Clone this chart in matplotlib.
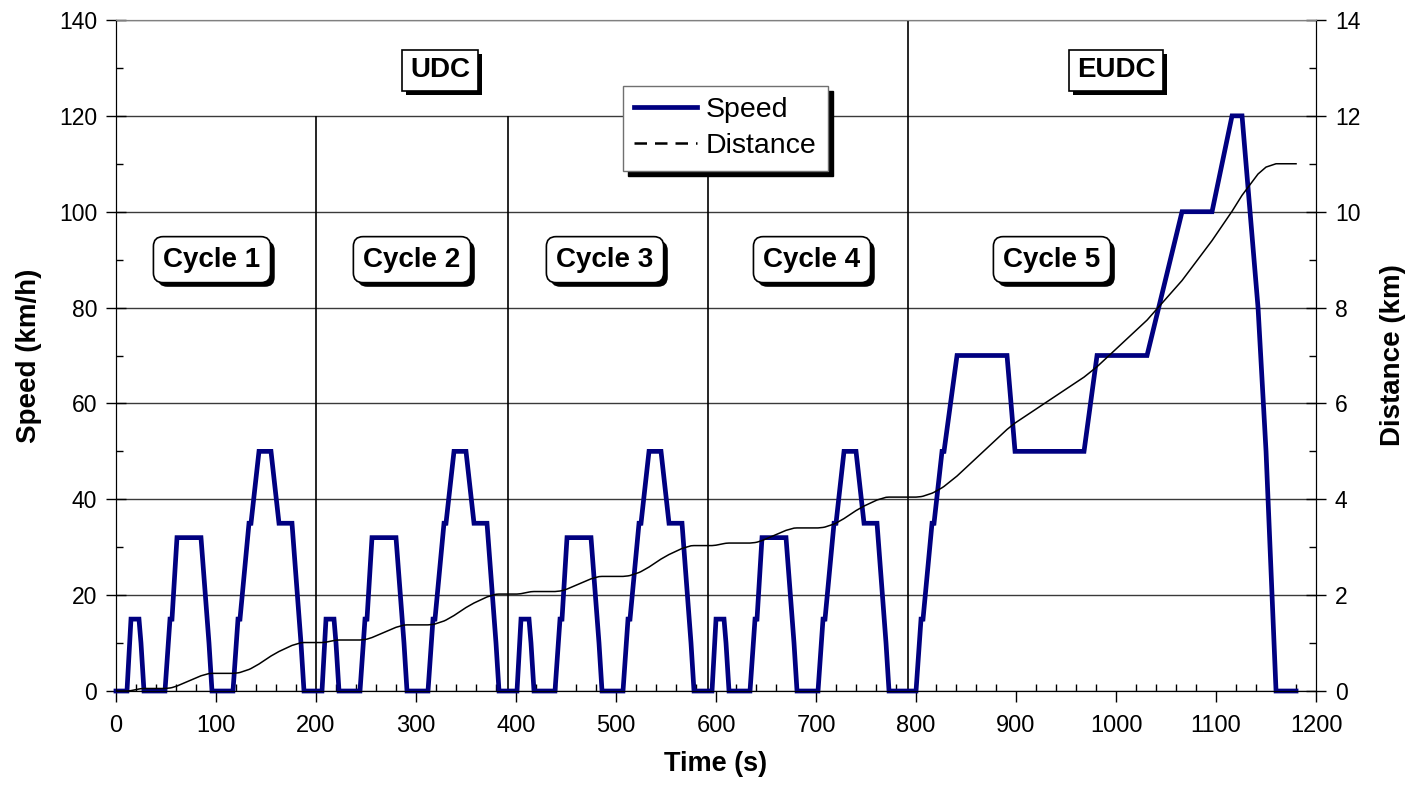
import matplotlib
matplotlib.use('Agg')
import matplotlib.pyplot as plt
from matplotlib.ticker import MultipleLocator
from matplotlib.lines import Line2D
import matplotlib.patheffects as pe

plt.rcParams['font.family'] = ['Liberation Sans', 'DejaVu Sans']

# ---------------- data ----------------
time_s = [
    # Cycle 1 (ECE-15)
    0, 11, 15, 23, 25, 28, 49, 54, 56, 61, 85, 93, 96, 117, 122, 124, 133, 135, 143, 155, 163, 176, 185, 188,
    # Cycle 2
    195, 206, 210, 218, 220, 223, 244, 249, 251, 256, 280, 288, 291, 312, 317, 319, 328, 330, 338, 350, 358, 371, 380, 383,
    # Cycle 3
    390, 401, 405, 413, 415, 418, 439, 444, 446, 451, 475, 483, 486, 507, 512, 514, 523, 525, 533, 545, 553, 566, 575, 578,
    # Cycle 4
    585, 596, 600, 608, 610, 613, 634, 639, 641, 646, 670, 678, 681, 702, 707, 709, 718, 720, 728, 740, 748, 761, 770, 773,
    # Cycle 5 (EUDC)
    780, 800, 805, 807, 816, 818, 826, 828, 841, 891, 899, 968, 981, 1031, 1066, 1096, 1116, 1126, 1142, 1150, 1160, 1180,
]

speed_kmh = [
    0, 0, 15, 15, 10, 0, 0, 15, 15, 32, 32, 10, 0, 0, 15, 15, 35, 35, 50, 50, 35, 35, 10, 0,
    0, 0, 15, 15, 10, 0, 0, 15, 15, 32, 32, 10, 0, 0, 15, 15, 35, 35, 50, 50, 35, 35, 10, 0,
    0, 0, 15, 15, 10, 0, 0, 15, 15, 32, 32, 10, 0, 0, 15, 15, 35, 35, 50, 50, 35, 35, 10, 0,
    0, 0, 15, 15, 10, 0, 0, 15, 15, 32, 32, 10, 0, 0, 15, 15, 35, 35, 50, 50, 35, 35, 10, 0,
    0, 0, 15, 15, 35, 35, 50, 50, 70, 70, 50, 50, 70, 70, 100, 100, 120, 120, 80, 50, 0, 0,
]

distance_km = [
    0, 0, 0.0083, 0.0417, 0.0486, 0.0528, 0.0528, 0.0632, 0.0715, 0.1042, 0.3175, 0.3642,
    0.3683, 0.3683, 0.3788, 0.3871, 0.4496, 0.4690, 0.5635, 0.7301, 0.8246, 0.9510, 1.0072, 1.0114,
    1.0114, 1.0114, 1.0197, 1.0531, 1.0600, 1.0642, 1.0642, 1.0746, 1.0829, 1.1156, 1.3289, 1.3756,
    1.3797, 1.3797, 1.3902, 1.3985, 1.4610, 1.4804, 1.5749, 1.7415, 1.8360, 1.9624, 2.0186, 2.0228,
    2.0228, 2.0228, 2.0311, 2.0645, 2.0714, 2.0756, 2.0756, 2.0860, 2.0943, 2.1270, 2.3403, 2.3870,
    2.3911, 2.3911, 2.4016, 2.4099, 2.4724, 2.4918, 2.5863, 2.7529, 2.8474, 2.9738, 3.0300, 3.0342,
    3.0342, 3.0342, 3.0425, 3.0759, 3.0828, 3.0870, 3.0870, 3.0974, 3.1057, 3.1384, 3.3517, 3.3984,
    3.4025, 3.4025, 3.4130, 3.4213, 3.4838, 3.5032, 3.5977, 3.7643, 3.8588, 3.9852, 4.0414, 4.0456,
    4.0456, 4.0456, 4.0560, 4.0644, 4.1269, 4.1463, 4.2407, 4.2685, 4.4852, 5.4574, 5.5907,
    6.5491, 6.7657, 7.7380, 8.5644, 9.3977, 10.0088, 10.3421, 10.7866, 10.9310, 11.0005, 11.0005,
]

cycle_labels = ["Cycle 1", "Cycle 2", "Cycle 3", "Cycle 4", "Cycle 5"]
cycle_label_x = [96, 296, 489, 696, 936]
cycle_label_y = 90

phase_labels = ["UDC", "EUDC"]
phase_label_x = [324, 1000]
phase_label_y = 129.5

divider_x = [200, 392, 592, 792]
divider_top = [120, 120, 120, 140]

x_ticks = list(range(0, 1201, 100))
speed_ticks = list(range(0, 141, 20))
dist_ticks = list(range(0, 15, 2))

# ---------------- figure ----------------
fig = plt.figure(figsize=(14.11, 7.9), dpi=100)
ax = fig.add_axes([0.0822, 0.1253, 0.8505, 0.8494])
ax2 = ax.twinx()

ax.set_xlim(0, 1200)
ax.set_ylim(0, 140)
ax2.set_ylim(0, 14)

ax.set_axisbelow(True)
ax.yaxis.grid(True, which='major', color='#3a3a3a', lw=1.0)

ax.vlines(divider_x, 0, divider_top, colors='black', lw=1.2, zorder=1)

speed_line, = ax.plot(time_s, speed_kmh, color='#000080', lw=3.4,
                      solid_joinstyle='miter', zorder=3, clip_on=False, label='Speed')
ax2.plot(time_s, distance_km, color='black', lw=1.1, zorder=2)

ax.set_xticks(x_ticks)
ax.xaxis.set_minor_locator(MultipleLocator(20))
ax.set_yticks(speed_ticks)
ax.yaxis.set_minor_locator(MultipleLocator(10))
ax2.set_yticks(dist_ticks)
ax2.yaxis.set_minor_locator(MultipleLocator(1))

ax.tick_params(axis='x', which='major', direction='out', length=8, width=1, labelsize=17, pad=9)
ax.tick_params(axis='x', which='minor', direction='in', length=5, width=1)
ax.tick_params(axis='y', which='major', direction='inout', length=15, width=1, labelsize=16.5, pad=6)
ax.tick_params(axis='y', which='minor', direction='in', length=5, width=1)
ax2.tick_params(axis='y', which='major', direction='inout', length=15, width=1, labelsize=16.5, pad=6)
ax2.tick_params(axis='y', which='minor', direction='in', length=5, width=1)

for a in (ax, ax2):
    a.spines['top'].set_color('#808080')
    a.spines['left'].set_color('black')
    a.spines['right'].set_color('black')
    a.spines['bottom'].set_color('black')

ax.set_xlabel('Time (s)', fontsize=19.5, fontweight='bold', labelpad=10)
ax.set_ylabel('Speed (km/h)', fontsize=20, fontweight='bold', labelpad=12)
ax2.set_ylabel('Distance (km)', fontsize=20, fontweight='bold', labelpad=14)

# ---------------- labels with shadows ----------------
box_shadow = [pe.SimplePatchShadow(offset=(3, -3), shadow_rgbFace='black', alpha=1.0), pe.Normal()]

def boxed(x, y, text, style):
    t = ax2.text(x, y / 10.0, text, ha='center', va='center',
                 fontsize=20, fontweight='bold', color='black', zorder=6,
                 bbox=dict(boxstyle=style, fc='white', ec='black', lw=1.2))
    t.get_bbox_patch().set_path_effects(box_shadow)
    return t

for lx, lt in zip(cycle_label_x, cycle_labels):
    boxed(lx, cycle_label_y, lt, 'round,pad=0.36,rounding_size=0.35')
for lx, lt in zip(phase_label_x, phase_labels):
    boxed(lx, phase_label_y, lt, 'square,pad=0.28')

# ---------------- legend ----------------
dist_handle = Line2D([], [], color='black', lw=1.8, dashes=(5, 3.2), label='Distance')
leg = ax2.legend(handles=[speed_line, dist_handle], loc='upper left',
                 bbox_to_anchor=(0.4225, 0.9016), borderaxespad=0,
                 fontsize=20.5, fancybox=False, framealpha=1, edgecolor='#707070',
                 handlelength=2.2, handletextpad=0.3, labelspacing=0.35,
                 borderpad=0.4, shadow={'color': 'black', 'alpha': 1, 'ox': 3.5, 'oy': -3.5})
leg.get_frame().set_linewidth(1.0)
leg.set_zorder(10)

fig.savefig('out.png', dpi=100)
